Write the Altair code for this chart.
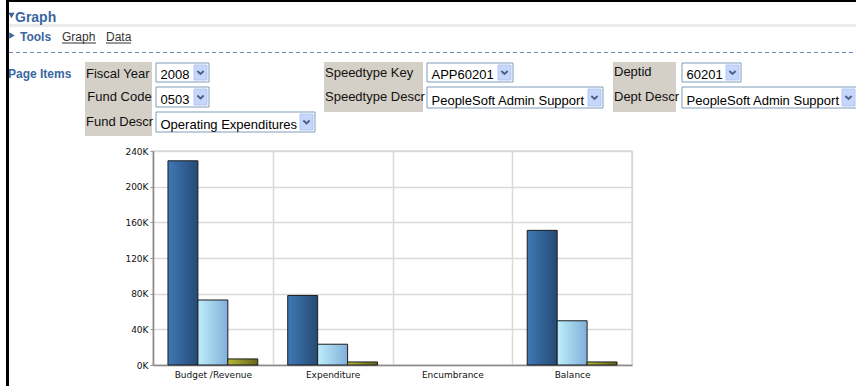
import altair as alt
import pandas as pd

# ---- chart values ----
categories = ["Budget /Revenue", "Expenditure", "Encumbrance", "Balance"]
series_names = ["Annual", "Year To Date", "Period"]
series_annual = [229000, 78000, 0, 151000]
series_ytd = [72900, 23300, 0, 49600]
series_period = [6800, 3400, 0, 3400]
y_ticks = [0, 40000, 80000, 120000, 160000, 200000, 240000]

# ---- page texts ----
title_text = ["Graph"]
bold_texts = ["Tools", "Page Items"]
link_texts = ["Graph", "Data"]
label_texts = ["Fiscal Year", "Fund Code", "Fund Descr", "Speedtype Key",
               "Speedtype Descr", "Deptid", "Dept Descr"]
select_texts = ["2008", "0503", "Operating Expenditures", "APP60201",
                "PeopleSoft Admin Support", "60201", "PeopleSoft Admin Support"]

rows = []
for name, vals in zip(series_names, [series_annual, series_ytd, series_period]):
    for c, v in zip(categories, vals):
        rows.append({"category": c, "series": name, "value": v})
df = pd.DataFrame(rows)

# ---- layout (page pixels) ----
OX, OY = 153, 151
W, H = 479, 214
PW, PH = 856, 386


def grad(c0, c1):
    return alt.Gradient(
        gradient="linear",
        stops=[alt.GradientStop(color=c0, offset=0), alt.GradientStop(color=c1, offset=1)],
        x1=0, x2=1, y1=0, y2=0,
    )


fills = {
    "Annual": grad("#3f79b6", "#264a75"),
    "Year To Date": grad("#bdeefa", "#80b0da"),
    "Period": grad("#b8b83c", "#66661a"),
}

x_enc = alt.X(
    "category:N", sort=categories,
    scale=alt.Scale(domain=categories, paddingInner=0, paddingOuter=0),
    axis=alt.Axis(title=None, labelAngle=0, ticks=False, grid=True, tickBand="extent",
                  labelFont="DejaVu Sans", labelFontSize=9, labelColor="#111",
                  labelPadding=5, domainColor="#8a8a8a", domainWidth=1.5,
                  gridColor="#d9d9d9", gridWidth=1.5),
)
xo_enc = alt.XOffset("series:N", sort=series_names,
                     scale=alt.Scale(domain=series_names, paddingInner=0, paddingOuter=0.5))
y_enc = alt.Y(
    "value:Q", scale=alt.Scale(domain=[0, 240000], nice=False),
    axis=alt.Axis(title=None, values=y_ticks,
                  labelExpr="format(datum.value / 1000, 'd') + 'K'",
                  labelFont="DejaVu Sans", labelFontSize=9, labelColor="#111",
                  labelPadding=2, tickSize=3, tickColor="#999",
                  domainColor="#8a8a8a", domainWidth=1.5,
                  gridColor="#d9d9d9", gridWidth=1.5),
)

bar_layers = []
for name in series_names:
    bar_layers.append(
        alt.Chart(df).transform_filter(alt.datum.series == name)
        .mark_bar(fill=fills[name], stroke="#1c1c1c", strokeWidth=1)
        .encode(x=x_enc, xOffset=xo_enc, y=y_enc,
                strokeOpacity=alt.condition(alt.datum.value > 0, alt.value(1), alt.value(0)))
    )


def pxX(v):
    return v - OX


def pxY(v):
    return v - OY


def rect_layer(items, **kw):
    d = pd.DataFrame([{"x": pxX(a), "y": pxY(b), "x2": pxX(c), "y2": pxY(e)} for a, b, c, e in items])
    return alt.Chart(d).mark_rect(**kw).encode(
        x=alt.X("x:Q", scale=None), x2="x2:Q",
        y=alt.Y("y:Q", scale=None), y2="y2:Q")


def text_layer(texts, pos, **kw):
    d = pd.DataFrame([{"t": t, "x": pxX(p[0]), "y": pxY(p[1])} for t, p in zip(texts, pos)])
    return alt.Chart(d).mark_text(align="left", baseline="alphabetic", **kw).encode(
        x=alt.X("x:Q", scale=None), y=alt.Y("y:Q", scale=None), text="t:N")


FONT = "Liberation Sans"
BLUE = "#3a679f"

# header rule and dashed line
sep = rect_layer([(9, 24, PW, 27)], color="#ebebeb")
dash_df = pd.DataFrame([{"x": pxX(9), "x2": pxX(PW), "y": pxY(52.5)}])
dash = alt.Chart(dash_df).mark_rule(color="#6a90c0", strokeDash=[4, 3], strokeWidth=1).encode(
    x=alt.X("x:Q", scale=None), x2="x2:Q", y=alt.Y("y:Q", scale=None))

tri_df = pd.DataFrame([{"x": pxX(11.5), "y": pxY(15.5), "s": "triangle-down"},
                       {"x": pxX(12), "y": pxY(35.5), "s": "triangle-right"}])
tris = alt.Chart(tri_df).mark_point(filled=True, color=BLUE, size=40, opacity=1).encode(
    x=alt.X("x:Q", scale=None), y=alt.Y("y:Q", scale=None),
    shape=alt.Shape("s:N", scale=None))

title = text_layer(title_text, [(15, 22)], font=FONT, fontSize=14, fontWeight="bold", color=BLUE)
bolds = text_layer(bold_texts, [(20, 41), (8, 78)], font=FONT, fontSize=12, fontWeight="bold", color=BLUE)
links = text_layer(link_texts, [(62, 41), (106, 41)], font=FONT, fontSize=12, color="#333333")
underlines = rect_layer([(62, 42.5, 96, 43.5), (106, 42.5, 131, 43.5)], color="#333333")

label_boxes = rect_layer([(85, 62, 152, 136), (324, 62, 423, 112), (613, 62, 676, 112)],
                         color="#d4d0c8")
labels = text_layer(label_texts,
                    [(86, 77.7), (87.3, 101), (86, 125.5), (325, 76.7), (325, 101),
                     (614, 75.7), (614, 100.7)],
                    font=FONT, fontSize=13, color="#111111")

select_boxes_pos = [(156, 63, 209, 82), (156, 87, 209, 107), (156, 112, 315, 132),
                    (427, 63, 513, 82), (427, 87, 603, 108), (682, 63, 741, 82),
                    (682, 87, 857, 108)]
sel_boxes = rect_layer(select_boxes_pos, fill="white", stroke="#7f9db9", strokeWidth=1)
sel_btns = rect_layer([(b[2] - 15, b[1] + 2, b[2] - 2, b[3] - 2) for b in select_boxes_pos],
                      fill="#c6d6fc", stroke="#b4c7f1", strokeWidth=1)
chev_df = pd.DataFrame([{"x": pxX(b[2] - 8.5), "y": pxY((b[1] + b[3]) / 2)} for b in select_boxes_pos])
chevs = alt.Chart(chev_df).mark_point(shape="M-1,-0.45L0,0.45L1,-0.45", filled=False,
                                      color="#4d6185", strokeWidth=2, size=40, opacity=1).encode(
    x=alt.X("x:Q", scale=None), y=alt.Y("y:Q", scale=None))
sel_text = text_layer(select_texts,
                      [(b[0] + 4.5, b[3] - 3.3) for b in select_boxes_pos],
                      font=FONT, fontSize=13, color="#000000")

borders = rect_layer([(6, 0, 9, PH), (6, 0, PW, 2)], color="#000000")

chart = alt.layer(
    *bar_layers,
    sep, dash, tris, title, bolds, links, underlines,
    label_boxes, labels, sel_boxes, sel_btns, chevs, sel_text,
    borders,
).properties(
    width=W, height=H,
    autosize=alt.AutoSizeParams(type="none"),
    padding={"left": OX, "top": OY, "right": PW - OX - W, "bottom": PH - OY - H},
    background="white",
).configure_view(stroke="#d9d9d9", strokeWidth=1.5)

chart.save("out.html", embed_options={"renderer": "svg", "actions": False})
